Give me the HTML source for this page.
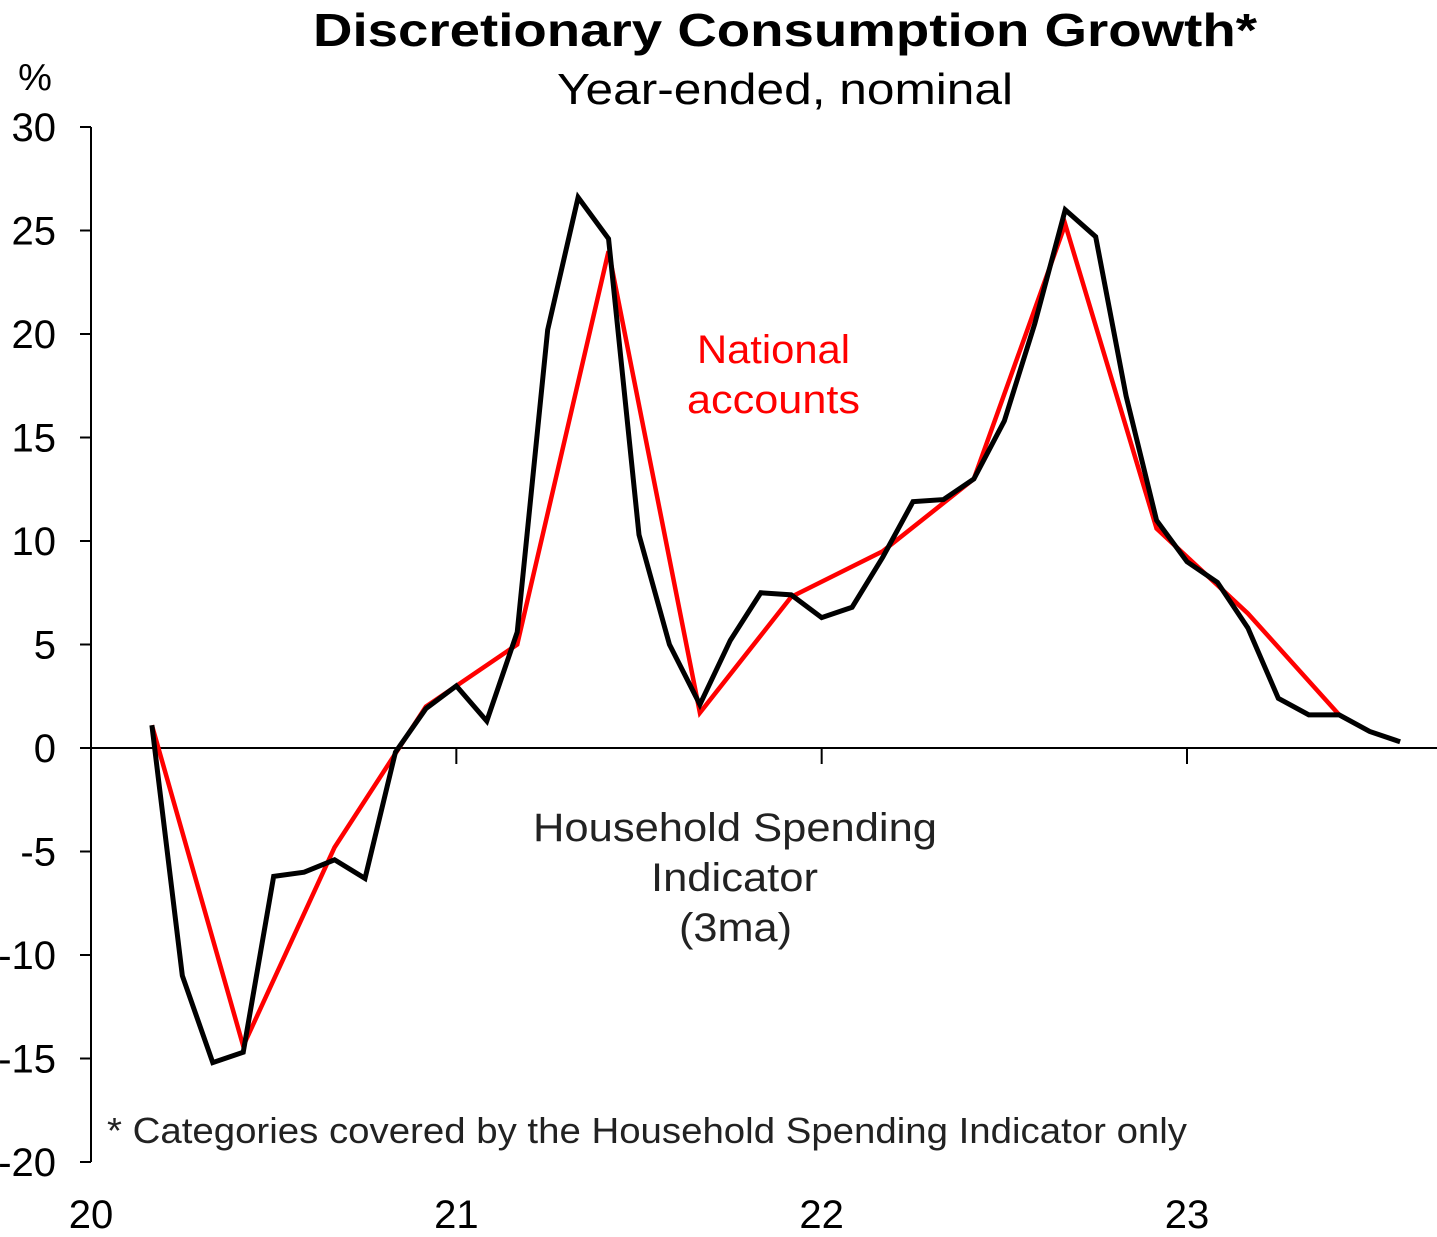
<!DOCTYPE html>
<html><head><meta charset="utf-8"><style>
body{margin:0;background:#fff;}
svg text{font-family:"Liberation Sans",Arial,sans-serif;}
</style></head><body>
<svg id="chart" width="1437" height="1232" viewBox="0 0 1437 1232" xmlns="http://www.w3.org/2000/svg">
<text x="313" y="46" textLength="944" lengthAdjust="spacingAndGlyphs" font-size="46" font-weight="bold" fill="#000">Discretionary Consumption Growth*</text>
<text x="557" y="104" textLength="456" lengthAdjust="spacingAndGlyphs" font-size="44" fill="#000">Year-ended, nominal</text>
<text x="35" y="90" text-anchor="middle" font-size="38" fill="#000">%</text>
<g id="axes"></g>
<g id="series"></g>
<text x="697" y="363" textLength="153" lengthAdjust="spacingAndGlyphs" font-size="40" fill="#ff0000">National</text>
<text x="687" y="413" textLength="173" lengthAdjust="spacingAndGlyphs" font-size="40" fill="#ff0000">accounts</text>
<text x="533" y="841" textLength="404" lengthAdjust="spacingAndGlyphs" font-size="40" fill="#222">Household  Spending</text>
<text x="651" y="891" textLength="167" lengthAdjust="spacingAndGlyphs" font-size="40" fill="#222">Indicator</text>
<text x="679" y="941" textLength="113" lengthAdjust="spacingAndGlyphs" font-size="40" fill="#222">(3ma)</text>
<text x="107" y="1143" textLength="1080" lengthAdjust="spacingAndGlyphs" font-size="36" fill="#222">* Categories covered by the Household Spending Indicator only</text>
</svg>
<script>
const yTicks=[30,25,20,15,10,5,0,-5,-10,-15,-20];
const xTickLabels=['20','21','22','23'];
// month index from Jan 2020
const hsiMonths=[2,3,4,5,6,7,8,9,10,11,12,13,14,15,16,17,18,19,20,21,22,23,24,25,26,27,28,29,30,31,32,33,34,35,36,37,38,39,40,41,42,43];
const hsiValues=[1.1,-11,-15.2,-14.7,-6.2,-6.0,-5.4,-6.3,-0.2,1.9,3.0,1.3,5.6,20.2,26.6,24.6,10.3,5.0,2.1,5.2,7.5,7.4,6.3,6.8,9.2,11.9,12.0,13.0,15.8,20.5,26.0,24.7,17.0,11.0,9.0,8.0,5.8,2.4,1.6,1.6,0.8,0.3];
const naMonths=[2,5,8,11,14,17,20,23,26,29,32,35,38,41];
const naValues=[1.1,-14.4,-4.8,2.0,5.0,24.0,1.7,7.3,9.5,13.0,25.3,10.6,6.5,1.6];
const NS='http://www.w3.org/2000/svg';
const x=m=>91+m*(1187-91)/36;
const y=v=>748-v*20.7;
const axes=document.getElementById('axes'),series=document.getElementById('series');
function mk(tag,attrs,parent){const e=document.createElementNS(NS,tag);for(const k in attrs)e.setAttribute(k,attrs[k]);parent.appendChild(e);return e;}
let e=mk('line',{x1:91,y1:y(30),x2:91,y2:y(-20),stroke:'#000','stroke-width':2},axes);


e=mk('line',{x1:91,y1:y(0),x2:1437,y2:y(0),stroke:'#000','stroke-width':2},axes);


yTicks.forEach(v=>{
 let t=mk('line',{x1:80,y1:y(v),x2:91,y2:y(v),stroke:'#000','stroke-width':2},axes);
 
 
 let l=mk('text',{x:56,y:y(v)+14,'text-anchor':'end','font-size':40,fill:'#000'},axes);
 l.textContent=v;
 
 
});
xTickLabels.forEach((s,i)=>{
 const px=x(i*12);
 if(i>0){let t=mk('line',{x1:px,y1:y(0),x2:px,y2:y(0)+16,stroke:'#000','stroke-width':2},axes);
 
 }
 let l=mk('text',{x:px,y:1228,'text-anchor':'middle','font-size':40,fill:'#000'},axes);
 l.textContent=s;
 
 
});
let p=mk('polyline',{points:naMonths.map((m,i)=>x(m)+','+y(naValues[i])).join(' '),fill:'none',stroke:'#ff0000','stroke-width':4.5,'stroke-linejoin':'miter'},series);


p=mk('polyline',{points:hsiMonths.map((m,i)=>x(m)+','+y(hsiValues[i])).join(' '),fill:'none',stroke:'#000','stroke-width':5,'stroke-linejoin':'miter'},series);


</script>
</body></html>
